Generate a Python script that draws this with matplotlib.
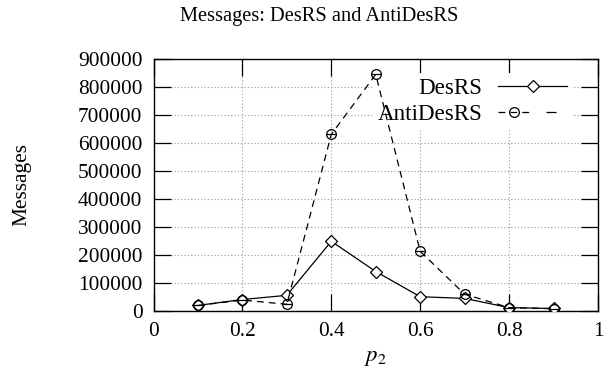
import numpy as np
import matplotlib
matplotlib.use('Agg')
import matplotlib.pyplot as plt
from matplotlib.legend_handler import HandlerTuple

plt.rcParams['font.family'] = ['Liberation Serif', 'DejaVu Serif']
plt.rcParams['mathtext.fontset'] = 'stix'

# data
p2 = [0.1, 0.2, 0.3, 0.4, 0.5, 0.6, 0.7, 0.8, 0.9]
desrs = [20000, 41000, 56000, 249000, 141000, 51000, 45000, 12000, 9000]
antidesrs = [20000, 39000, 24000, 631000, 845000, 213000, 60000, 12000, 8000]

xticks = [0, 0.2, 0.4, 0.6, 0.8, 1]
yticks = list(range(0, 900001, 100000))

fs = 15.4
fig = plt.figure(figsize=(6.06, 3.92), dpi=100)
ax = fig.add_axes([153.5/606, 1-311/392, (598-153.5)/606, (311-59)/392])

l1, = ax.plot(p2, desrs, color='black', lw=0.9, marker='D', ms=6.5,
              mfc='white', mec='black', mew=0.9, zorder=3)
l2, = ax.plot(p2, antidesrs, color='black', lw=0.9, ls=(0, (5.5, 4)), marker='o',
              ms=7, mfc='none', mec='black', mew=0.9, zorder=3)
l2b, = ax.plot(p2, antidesrs, ls='none', marker='_', ms=7, mec='black',
               mew=0.9, zorder=3)

ax.set_xlim(0, 1)
ax.set_ylim(0, 900000)
ax.set_xticks(xticks)
ax.set_xticklabels(['0', '0.2', '0.4', '0.6', '0.8', '1'])
ax.set_yticks(yticks)
ax.set_yticklabels([str(v) for v in yticks])
ax.tick_params(direction='in', length=12, width=0.9, top=True, right=True,
               labelsize=fs, pad=8)
ax.set_axisbelow(True)
ax.grid(True, ls=(0, (1, 2)), color='#999999', lw=0.8)
for s in ax.spines.values():
    s.set_linewidth(1.0)

leg = ax.legend([l1, (l2, l2b)], ['DesRS', 'AntiDesRS'], loc='upper right',
                bbox_to_anchor=(0.9415, 0.945), markerfirst=False, fontsize=16.6,
                frameon=True, fancybox=False, edgecolor='none', facecolor='white',
                framealpha=1, borderpad=0.2, handlelength=3.0, handletextpad=0.7,
                labelspacing=0.22, borderaxespad=0,
                handler_map={tuple: HandlerTuple(ndivide=None)})
leg.set_zorder(2)

fig.text(319/606, 1-17/392, 'Messages: DesRS and AntiDesRS', ha='center',
         va='center', fontsize=14.7)
fig.text(375/606, 1-357/392, '$p_2$', ha='center', va='center', fontsize=16.5)
fig.text(22/606, 1-185/392, 'Messages', ha='center', va='center',
         rotation=90, fontsize=fs)

fig.savefig('out.png', dpi=100)
